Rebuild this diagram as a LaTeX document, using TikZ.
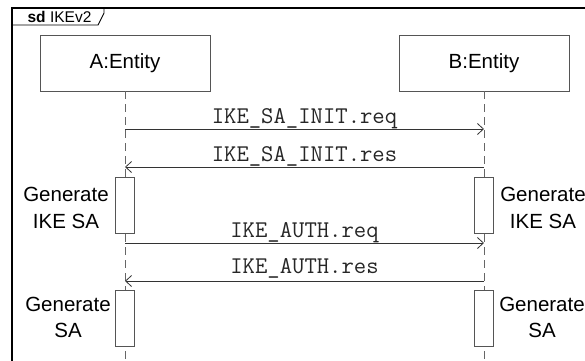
\documentclass[tikz,border=0pt]{standalone}
\usepackage{fontspec}
\setmainfont{Liberation Sans}
\usetikzlibrary{arrows.meta}

\definecolor{boxgray}{HTML}{555555}
\definecolor{linegray}{HTML}{666666}

\tikzset{
  entity/.style={draw=boxgray, line width=0.9pt, fill=white, minimum width=170pt,
    minimum height=56pt, inner sep=0pt, font=\fontsize{20.5}{24}\selectfont},
  activation/.style={draw=boxgray, line width=0.9pt, fill=white, minimum width=19pt,
    minimum height=56pt, inner sep=0pt},
  lifeline/.style={draw=linegray, line width=1pt, dash pattern=on 8pt off 5pt},
  msg/.style={draw=black!80, line width=0.8pt, -{Straight Barb[length=6pt,width=11pt]}},
  msglabel/.style={anchor=base, inner sep=0pt, text=black!85, font=\fontsize{24}{26}\ttfamily},
  note/.style={align=center, inner sep=0pt, font=\fontsize{20.5}{26.5}\selectfont},
}

\begin{document}
\begin{tikzpicture}[x=1pt, y=-1pt]
  \useasboundingbox (0,0) rectangle (585,360);

  % frame and its name tab
  \draw[line width=1.2pt] (12,365) -- (12,8) -- (590,8);
  \draw[line width=0.9pt] (12,25) -- (98,25) -- (104,13) -- (104,8);
  \node[inner sep=0pt, font=\fontsize{15.5}{18}\selectfont] (tab) at (59.5,16.5)
    {\textbf{sd} IKEv2};

  % participants
  \node[entity] (A) at (125,63) {A:Entity};
  \node[entity] (B) at (484,63) {B:Entity};

  % lifelines
  \coordinate (Aend) at (125,362);
  \coordinate (Bend) at (484,362);
  \draw[lifeline] (A.south) -- (Aend);
  \draw[lifeline] (B.south) -- (Bend);

  % activations
  \node[activation] (A1) at (125,205) {};
  \node[activation] (A2) at (125,318) {};
  \node[activation] (B1) at (483.5,205) {};
  \node[activation] (B2) at (483.5,318) {};

  % message anchor points on the lifelines
  \coordinate (a1) at (125,129); \coordinate (b1) at (484,129);
  \coordinate (a2) at (125,167); \coordinate (b2) at (484,167);
  \coordinate (a3) at (125,243); \coordinate (b3) at (484,243);
  \coordinate (a4) at (125,281); \coordinate (b4) at (484,281);

  % messages
  \draw[msg] (a1) -- (b1);
  \draw[msg] (b2) -- (a2);
  \draw[msg] (a3) -- (b3);
  \draw[msg] (b4) -- (a4);

  \node[msglabel] (m1) at (304.5,123.5) {IKE\_SA\_INIT.req};
  \node[msglabel] (m2) at (304.5,161) {IKE\_SA\_INIT.res};
  \node[msglabel] (m3) at (304.5,237) {IKE\_AUTH.req};
  \node[msglabel] (m4) at (304.5,273.5) {IKE\_AUTH.res};

  % notes beside the activations
  \node[note] (nA1) at (66,208) {Generate\\IKE SA};
  \node[note] (nB1) at (543,208) {Generate\\IKE SA};
  \node[note] (nA2) at (68,317.5) {Generate\\SA};
  \node[note] (nB2) at (542,317.5) {Generate\\SA};
\end{tikzpicture}
\end{document}
